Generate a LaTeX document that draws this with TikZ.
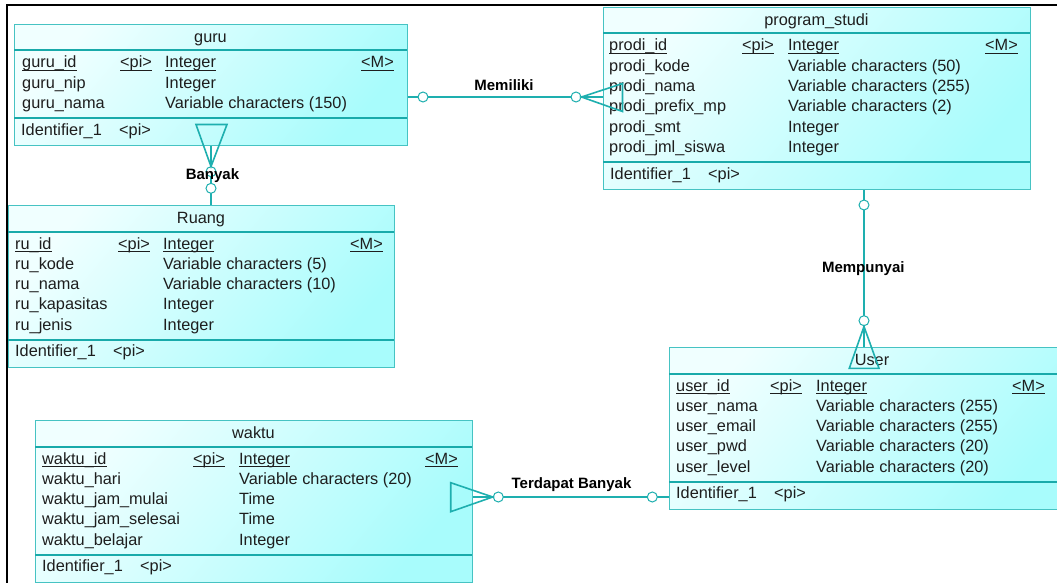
\documentclass[tikz,border=0pt]{standalone}
\usepackage{fontspec}
\setmainfont{Liberation Sans}

\definecolor{entedge}{RGB}{70,195,195}
\definecolor{entsepc}{RGB}{25,170,170}
\definecolor{relc}{RGB}{30,175,175}
\definecolor{filltop}{RGB}{240,255,255}
\definecolor{fillbot}{RGB}{168,252,252}
\definecolor{txtc}{RGB}{30,30,30}

% entity box: id, left, right, top, number of attribute rows, title
\newcommand\erentity[6]{%
  \pgfmathsetmacro\erT{#4}%
  \pgfmathsetmacro\erL{#2}%
  \pgfmathsetmacro\erSep{#4+44+20.3*(#5-1)+9.5}%
  \pgfmathsetmacro\erBot{\erSep+27}%
  \pgfmathsetmacro\erW{#3-#2}%
  \pgfmathsetmacro\erH{\erBot-#4}%
  \node[entbox, minimum width=\erW pt, minimum height=\erH pt] (#1) at (#2,#4) {};
  \draw[entsep] (#2,#4+26.5) -- (#3,#4+26.5);
  \draw[entsep] (#2,\erSep) -- (#3,\erSep);
  \node[ttl] (#1-title) at ({(#2+#3)/2},#4+18.5) {#6};
  \node[txt] (#1-ident) at (#2+7,\erSep+17) {Identifier\_1};
  \node[txt] (#1-identpi) at (#2+105,\erSep+17) {<pi>};
}
% primary key row: id, attribute name, type
\newcommand\erkey[3]{%
  \pgfmathsetmacro\rowy{\erT+44}%
  \node[txt] (#1-n1) at (\colN,\rowy) {#2};
  \node[txt] (#1-p1) at (\colP,\rowy) {<pi>};
  \node[txt] (#1-t1) at (\colT,\rowy) {#3};
  \node[txt] (#1-m1) at (\colM,\rowy) {<M>};
  \foreach \s in {n,p,t,m}
    \draw[uline] ([yshift=-2pt]#1-\s1.base west) -- ([yshift=-2pt]#1-\s1.base east);
}
% ordinary attribute row: id, row index, attribute name, type
\newcommand\erattr[4]{%
  \pgfmathsetmacro\rowy{\erT+44+20.3*(#2-1)}%
  \node[txt] (#1-n#2) at (\colN,\rowy) {#3};
  \node[txt] (#1-t#2) at (\colT,\rowy) {#4};
}

\begin{document}
\begin{tikzpicture}[x=1pt,y=-1pt,
  entbox/.style={draw=entedge, line width=1pt, anchor=north west, inner sep=0pt,
    shade, top color=filltop, bottom color=fillbot, shading angle=50},
  entsep/.style={draw=entsep c, line width=2pt},
  entsep c/.style={},
  txt/.style={anchor=base west, inner sep=0pt, text=txtc,
    font=\fontsize{16.3}{19}\selectfont},
  ttl/.style={anchor=base, inner sep=0pt, text=txtc,
    font=\fontsize{16.3}{19}\selectfont},
  uline/.style={draw=txtc, line width=0.9pt},
  rel/.style={draw=relc, line width=1.6pt, line join=miter},
  ercirc/.style={circle, draw=relc, fill=white, line width=1pt,
    minimum size=10pt, inner sep=0pt},
  rlabel/.style={anchor=base, inner sep=0pt, text=black,
    font=\fontsize{15}{18}\selectfont\bfseries},
  frame/.style={draw=black, line width=2pt}]
\tikzset{entsep/.style={draw=entsepc, line width=2pt}}

\useasboundingbox (0,0) rectangle (1057,583);
\clip (0,0) rectangle (1057,583);
\fill[white] (0,0) rectangle (1057,583);

% sheet frame
\draw[frame] (6.5,600) -- (6.5,5.5) -- (1070,5.5);

% ---- guru
\def\colN{22}\def\colP{120}\def\colT{165}\def\colM{361}
\erentity{guru}{14}{407}{24}{3}{guru}
\erkey{guru}{guru\_id}{Integer}
\erattr{guru}{2}{guru\_nip}{Integer}
\erattr{guru}{3}{guru\_nama}{Variable characters (150)}

% ---- program_studi
\def\colN{609}\def\colP{742}\def\colT{788}\def\colM{985}
\erentity{prodi}{603}{1030}{7}{6}{program\_studi}
\erkey{prodi}{prodi\_id}{Integer}
\erattr{prodi}{2}{prodi\_kode}{Variable characters (50)}
\erattr{prodi}{3}{prodi\_nama}{Variable characters (255)}
\erattr{prodi}{4}{prodi\_prefix\_mp}{Variable characters (2)}
\erattr{prodi}{5}{prodi\_smt}{Integer}
\erattr{prodi}{6}{prodi\_jml\_siswa}{Integer}

% ---- Ruang
\def\colN{15}\def\colP{118}\def\colT{163}\def\colM{350}
\erentity{ruang}{8}{394}{205}{5}{Ruang}
\erkey{ruang}{ru\_id}{Integer}
\erattr{ruang}{2}{ru\_kode}{Variable characters (5)}
\erattr{ruang}{3}{ru\_nama}{Variable characters (10)}
\erattr{ruang}{4}{ru\_kapasitas}{Integer}
\erattr{ruang}{5}{ru\_jenis}{Integer}

% ---- User
\def\colN{676}\def\colP{770}\def\colT{816}\def\colM{1012}
\erentity{user}{669}{1075}{347}{5}{User}
\erkey{user}{user\_id}{Integer}
\erattr{user}{2}{user\_nama}{Variable characters (255)}
\erattr{user}{3}{user\_email}{Variable characters (255)}
\erattr{user}{4}{user\_pwd}{Variable characters (20)}
\erattr{user}{5}{user\_level}{Variable characters (20)}

% ---- waktu
\def\colN{42}\def\colP{193}\def\colT{239}\def\colM{425}
\erentity{waktu}{35}{472}{420}{5}{waktu}
\erkey{waktu}{waktu\_id}{Integer}
\erattr{waktu}{2}{waktu\_hari}{Variable characters (20)}
\erattr{waktu}{3}{waktu\_jam\_mulai}{Time}
\erattr{waktu}{4}{waktu\_jam\_selesai}{Time}
\erattr{waktu}{5}{waktu\_belajar}{Integer}

% ---- Memiliki : guru -- program_studi
\coordinate (mA) at (423,97);
\coordinate (mB) at (576,97);
\coordinate (mApex) at (581.5,97);
\coordinate (mTop) at (622.5,83.5);
\coordinate (mBot) at (622.5,111.5);
\draw[rel] (guru.east |- mA) -- (prodi.west |- mA);
\node[ercirc] (mAc) at (mA) {};
\node[ercirc] (mBc) at (mB) {};
\draw[rel] (mTop) -- (mApex) -- (mBot) -- cycle;
\node[rlabel] (lblMem) at (504,90.7) {Memiliki};

% ---- Banyak : guru -- Ruang
\coordinate (bA) at (211,171.7);
\coordinate (bB) at (211,188.3);
\coordinate (bApex) at (211,166.5);
\coordinate (bL) at (196,124.5);
\coordinate (bR) at (227,124.5);
\draw[rel] (guru.south -| bA) -- (ruang.north -| bA);
\node[ercirc] (bBc) at (bB) {};
\node[ercirc] (bAc) at (bA) {};
\draw[rel] (bL) -- (bApex) -- (bR) -- cycle;
\node[rlabel] (lblBan) at (212.5,179.3) {Banyak};

% ---- Mempunyai : program_studi -- User
\coordinate (pA) at (864,205);
\coordinate (pB) at (864,320.7);
\coordinate (pApex) at (864,326.5);
\coordinate (pL) at (849.3,368.3);
\coordinate (pR) at (879,368.3);
\draw[rel] (prodi.south -| pA) -- (user.north -| pA);
\node[ercirc] (pAc) at (pA) {};
\node[ercirc] (pBc) at (pB) {};
\draw[rel] (pL) -- (pApex) -- (pR) -- cycle;
\node[rlabel] (lblMem2) at (863.3,272) {Mempunyai};

% ---- Terdapat Banyak : waktu -- User
\coordinate (tA) at (652.3,497);
\coordinate (tB) at (498.3,497);
\coordinate (tApex) at (492.7,497);
\coordinate (tTop) at (450.7,482.7);
\coordinate (tBot) at (450.7,511.7);
\draw[rel] (waktu.east |- tA) -- (user.west |- tA);
\node[ercirc] (tAc) at (tA) {};
\node[ercirc] (tBc) at (tB) {};
\draw[rel] (tTop) -- (tApex) -- (tBot) -- cycle;
\node[rlabel] (lblTer) at (571.5,488) {Terdapat Banyak};
\end{tikzpicture}
\end{document}
